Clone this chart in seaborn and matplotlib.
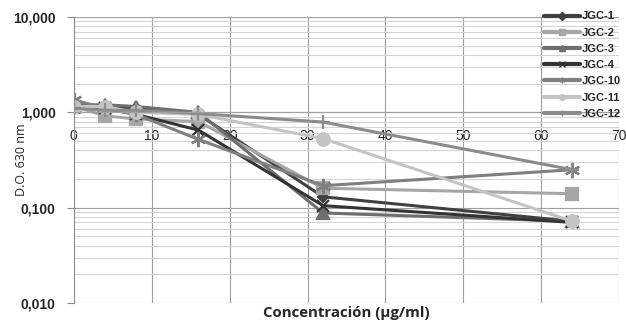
import matplotlib
matplotlib.use("Agg")
import matplotlib.pyplot as plt
import seaborn as sns
import pandas as pd
from matplotlib.ticker import FixedLocator, LogLocator, NullFormatter
from matplotlib.lines import Line2D

conc = [0, 4, 8, 16, 32, 64]
series_names = ["JGC-1", "JGC-2", "JGC-3", "JGC-4", "JGC-10", "JGC-11", "JGC-12"]
jgc1 = [1.20, 1.15, 1.10, 0.95, 0.13, 0.072]
jgc2 = [1.15, 0.92, 0.85, 0.80, 0.16, 0.14]
jgc3 = [1.20, 1.20, 1.15, 1.00, 0.088, 0.072]
jgc4 = [1.15, 1.10, 0.95, 0.65, 0.105, 0.070]
jgc10 = [1.35, 1.10, 0.95, 0.52, 0.17, 0.25]
jgc11 = [1.15, 1.15, 1.00, 0.95, 0.53, 0.072]
jgc12 = [1.10, 1.05, 1.05, 0.97, 0.79, 0.25]
y_ticks = [0.01, 0.1, 1, 10]
y_tick_labels = ["0,010", "0,100", "1,000", "10,000"]
x_ticks = [0, 10, 20, 30, 40, 50, 60, 70]

values = [jgc1, jgc2, jgc3, jgc4, jgc10, jgc11, jgc12]
rows = []
for name, vals in zip(series_names, values):
    for c, v in zip(conc, vals):
        rows.append({"conc": c, "od": v, "serie": name})
df = pd.DataFrame(rows)

palette = {"JGC-1": "#404040", "JGC-2": "#a6a6a6", "JGC-3": "#6e6e6e",
           "JGC-4": "#333333", "JGC-10": "#7f7f7f", "JGC-11": "#c4c4c4",
           "JGC-12": "#8c8c8c"}
markers = {"JGC-1": "D", "JGC-2": "s", "JGC-3": "^", "JGC-4": "x",
           "JGC-10": (6, 2, 0), "JGC-11": "o", "JGC-12": "+"}
msize = {"JGC-1": 5, "JGC-2": 8, "JGC-3": 8, "JGC-4": 8,
         "JGC-10": 11, "JGC-11": 9, "JGC-12": 10}

sns.set_style("white")
plt.rcParams["font.family"] = ["Liberation Sans", "DejaVu Sans"]

fig = plt.figure(figsize=(6.26, 3.2), dpi=100)
ax = fig.add_axes([0.118, 0.053, 0.871, 0.894])

handles = []
for name in series_names:
    sub = df[df["serie"] == name]
    sns.lineplot(data=sub, x="conc", y="od", ax=ax, color=palette[name],
                 marker=markers[name], markersize=msize[name],
                 markeredgewidth=1.6, markeredgecolor=palette[name],
                 markerfacecolor=palette[name], linewidth=2.2, legend=False)
    handles.append(Line2D([], [], color=palette[name], linewidth=3,
                          marker=markers[name], markersize=4,
                          markeredgecolor=palette[name], markeredgewidth=1))

ax.set_yscale("log")
ax.set_ylim(0.01, 10)
ax.set_xlim(0, 70)
ax.yaxis.set_major_locator(FixedLocator(y_ticks))
ax.set_yticklabels(y_tick_labels, fontsize=10, fontweight="bold")
ax.yaxis.set_minor_locator(LogLocator(base=10, subs=range(2, 10)))
ax.yaxis.set_minor_formatter(NullFormatter())
ax.set_xticks(x_ticks)
ax.set_xticklabels([str(t) for t in x_ticks], fontsize=10.5, fontweight="bold")

ax.grid(True, which="major", axis="both", color="#a0a0a0", linewidth=0.8)
ax.grid(True, which="minor", axis="y", color="#d4d4d4", linewidth=0.8)
ax.set_axisbelow(True)

for s in ["top", "right"]:
    ax.spines[s].set_visible(False)
ax.spines["left"].set_color("#8c8c8c")
ax.spines["bottom"].set_position(("data", 1))
ax.spines["bottom"].set_color("#a0a0a0")
ax.spines["bottom"].set_linewidth(0.8)
ax.tick_params(axis="x", length=0, pad=12)
ax.tick_params(axis="y", which="major", length=5, color="#8c8c8c", left=True, pad=8)
ax.tick_params(axis="y", which="minor", length=0)

ax.set_xlabel("Concentración (µg/ml)", fontsize=10.8, fontweight="bold",
              family=["Open Sans", "DejaVu Sans"])
ax.xaxis.set_label_coords(0.5, -0.01)
ax.set_ylabel("D.O. 630 nm", fontsize=9, family=["Open Sans", "DejaVu Sans"])
ax.yaxis.set_label_coords(-0.085, 0.5)

leg = ax.legend(handles, series_names, loc="upper left", bbox_to_anchor=(0.855, 1.035),
                frameon=False, fontsize=8, handlelength=3.2, labelspacing=0.56,
                handletextpad=0.2, borderaxespad=0)
for t in leg.get_texts():
    t.set_fontweight("bold")

fig.savefig("out.png", dpi=100)
